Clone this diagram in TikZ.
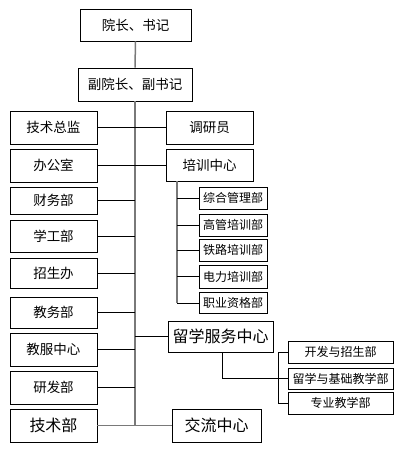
\documentclass[tikz,border=0pt]{standalone}
\usepackage{fontspec}
\newfontfamily\cjk{Noto Sans CJK SC}
\begin{document}
\begin{tikzpicture}[x=1pt,y=-1pt,
  box/.style={draw=black,line width=0.9pt,fill=white,inner sep=0pt,align=center,font=\cjk\fontsize{13.5}{15}\selectfont},
  big/.style={box,font=\cjk\fontsize{16}{18}\selectfont},
  small/.style={box,font=\cjk\fontsize{12}{14}\selectfont},
  trunk/.style={draw=gray!95!black,line width=1.5pt},
  conn/.style={draw=black,line width=0.9pt}]
\useasboundingbox[fill=white] (0,0) rectangle (402,453);
% top
\node[box,minimum width=111pt,minimum height=32pt] (yz) at (135.5,25) {院长、书记};
\node[box,minimum width=114pt,minimum height=33pt] (fyz) at (135,84.5) {副院长、副书记};
% left column
\node[box,minimum width=87pt,minimum height=33pt] (jszj) at (53.5,127.5) {技术总监};
\node[box,minimum width=87pt,minimum height=33pt] (bgs) at (53.5,165.5) {办公室};
\node[box,minimum width=87pt,minimum height=27pt] (cwb) at (53.5,200.5) {财务部};
\node[box,minimum width=87pt,minimum height=32pt] (xgb) at (53.5,236) {学工部};
\node[box,minimum width=87pt,minimum height=30pt] (zsb) at (53.5,273) {招生办};
\node[box,minimum width=87pt,minimum height=31pt] (jwb) at (53.5,312.5) {教务部};
\node[box,minimum width=87pt,minimum height=33pt] (jfzx) at (53.5,349.5) {教服中心};
\node[box,minimum width=87pt,minimum height=33pt] (yfb) at (53.5,387.5) {研发部};
\node[big,minimum width=87pt,minimum height=33pt] (jsb) at (53.5,425.5) {技术部};
% right column
\node[box,minimum width=87pt,minimum height=33pt] (dyy) at (209.5,127.5) {调研员};
\node[box,minimum width=87pt,minimum height=32pt] (pxzx) at (209.5,165) {培训中心};
\node[small,minimum width=68pt,minimum height=22pt] (zhgl) at (233,198) {综合管理部};
\node[small,minimum width=68pt,minimum height=22pt] (ggpx) at (233,225) {高管培训部};
\node[small,minimum width=68pt,minimum height=22pt] (tlpx) at (233,250) {铁路培训部};
\node[small,minimum width=68pt,minimum height=23pt] (dlpx) at (233,276.5) {电力培训部};
\node[small,minimum width=68pt,minimum height=21pt] (zyzg) at (233,303) {职业资格部};
\node[big,minimum width=105pt,minimum height=31pt] (lxfw) at (220.5,336.5) {留学服务中心};
\node[big,minimum width=89pt,minimum height=33pt] (jlzx) at (216.5,425.5) {交流中心};
\node[small,minimum width=105pt,minimum height=22pt] (kfzs) at (340.5,352) {开发与招生部};
\node[small,minimum width=105pt,minimum height=21pt] (lxjc) at (340.5,378.5) {留学与基础教学部};
\node[small,minimum width=105pt,minimum height=22pt] (zyjx) at (340.5,403) {专业教学部};
% coordinates
\coordinate (tend) at (135,426);
\coordinate (st) at (177,181);
\coordinate (send) at (177,303);
\coordinate (lxb) at (222,378);
\coordinate (rb) at (278,378);
% main trunk
\draw[trunk] (yz.south) -- (fyz.north);
\draw[trunk] (fyz.south) -- (tend);
\draw[trunk] (jsb.east) -- (jlzx.west);
% left connectors
\foreach \n in {jszj,bgs,cwb,xgb,zsb,jwb,jfzx,yfb}
  \draw[conn] (\n.east) -- (\n.east -| tend);
% right connectors
\foreach \n in {dyy,pxzx,lxfw}
  \draw[conn] (\n.west -| tend) -- (\n.west);
% training sub-trunk
\draw[trunk] (st) -- (send);
\foreach \n in {zhgl,ggpx,tlpx,dlpx,zyzg}
  \draw[conn] (\n.west -| st) -- (\n.west);
% study abroad sub
\draw[conn] (lxfw.south -| lxb) -- (lxb) -- (rb);
\draw[conn] (kfzs.west -| rb) -- (zyjx.west -| rb);
\foreach \n in {kfzs,lxjc,zyjx}
  \draw[conn] (\n.west -| rb) -- (\n.west);
\end{tikzpicture}
\end{document}
